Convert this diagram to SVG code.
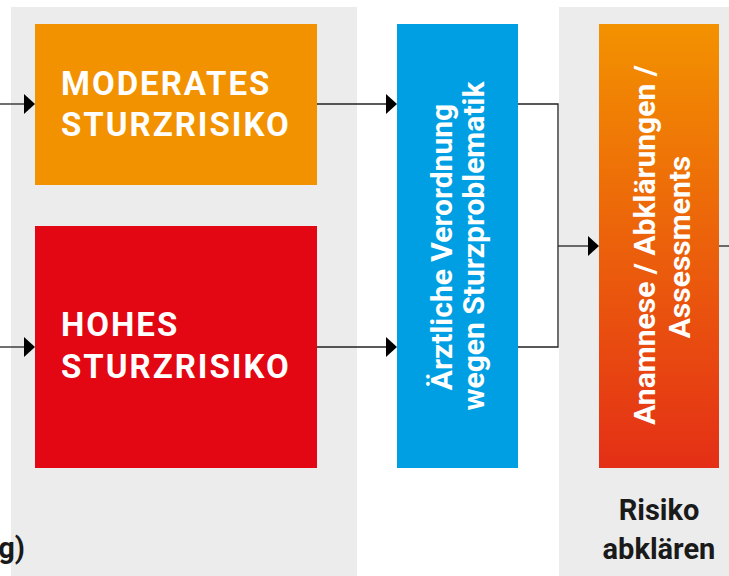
<svg xmlns="http://www.w3.org/2000/svg" width="729" height="576" viewBox="0 0 729 576">
  <style>
    .panel { fill: #ECECEC; }
    .boxtext { font-family: Roboto, "Liberation Sans", sans-serif; font-weight: 700; fill: #FFFFFF; }
    .caps { font-size: 33px; letter-spacing: 2px; }
    .vert { font-size: 30px; text-anchor: middle; }
    .label { font-family: Roboto, "Liberation Sans", sans-serif; font-weight: 700; font-size: 29px; fill: #1A1A1A; }
    .conn { fill: none; stroke: #222222; stroke-width: 1.3; }
    .head { fill: #000000; }
  </style>
  <defs>
    <linearGradient id="grad" x1="0" y1="0" x2="0" y2="1">
      <stop offset="0" stop-color="#F39200"/>
      <stop offset="1" stop-color="#E42F16"/>
    </linearGradient>
  </defs>
  <rect width="729" height="576" fill="#FFFFFF"/>
  <g id="panels">
    <rect class="panel" x="11" y="7" width="346" height="569"/>
    <rect class="panel" x="559" y="7" width="170" height="569"/>
  </g>
  <g id="connectors">
    <line class="conn" x1="0" y1="104" x2="25" y2="104"/>
    <polygon class="head" points="35,104 24,94 24,114"/>
    <line class="conn" x1="0" y1="347" x2="25" y2="347"/>
    <polygon class="head" points="35,347 24,337 24,357"/>
    <line class="conn" x1="317" y1="104" x2="387" y2="104"/>
    <polygon class="head" points="397,104 386,94 386,114"/>
    <line class="conn" x1="317" y1="347" x2="387" y2="347"/>
    <polygon class="head" points="397,347 386,337 386,357"/>
    <polyline class="conn" points="518,104 558,104 558,347 518,347"/>
    <line class="conn" x1="558" y1="246" x2="589" y2="246"/>
    <polygon class="head" points="599,246 588,236 588,256"/>
    <line class="conn" x1="719" y1="246" x2="729" y2="246"/>
  </g>
  <g id="moderates">
    <rect x="35" y="24" width="282" height="161" fill="#F39200"/>
    <text class="boxtext caps" x="61" y="95">MODERATES</text>
    <text class="boxtext caps" x="61" y="136">STURZRISIKO</text>
  </g>
  <g id="hohes">
    <rect x="35" y="226" width="282" height="242" fill="#E30613"/>
    <text class="boxtext caps" x="61" y="336">HOHES</text>
    <text class="boxtext caps" x="61" y="378">STURZRISIKO</text>
  </g>
  <g id="verordnung">
    <rect x="397" y="24" width="121" height="444" fill="#009FE3"/>
    <text class="boxtext vert" transform="translate(452,247) rotate(-90)">Ärztliche Verordnung</text>
    <text class="boxtext vert" transform="translate(484,246) rotate(-90)">wegen Sturzproblematik</text>
  </g>
  <g id="anamnese">
    <rect x="599" y="24" width="120" height="444" fill="url(#grad)"/>
    <text class="boxtext vert" transform="translate(655,245) rotate(-90)">Anamnese / Abklärungen /</text>
    <text class="boxtext vert" transform="translate(690,247) rotate(-90)">Assessments</text>
  </g>
  <g id="labels">
    <text class="label" x="659" y="520" text-anchor="middle">Risiko</text>
    <text class="label" x="659" y="559" text-anchor="middle">abklären</text>
    <text class="label" x="25" y="558" text-anchor="end">g)</text>
  </g>
</svg>
